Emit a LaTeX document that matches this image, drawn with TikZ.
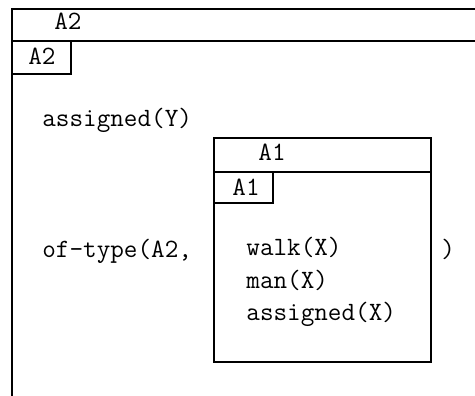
\documentclass[tikz,border=0pt]{standalone}
\usepackage{tikz}
\usetikzlibrary{positioning}
\definecolor{ink}{HTML}{000000}
\tikzset{
  frame/.style={line width=1.3pt,draw=ink,line cap=rect},
  cond/.style={font=\fontsize{13.2}{16.2}\selectfont\ttfamily,text=ink,anchor=base west,inner sep=0pt},
  boxlabel/.style={cond}
}

\begin{document}
\begin{tikzpicture}[x=0.5pt,y=-0.5pt]
    \useasboundingbox (0,0) rectangle (475,395);
    % outer box A2, open to the right and below
    \coordinate (otl) at (12,9);
    \coordinate (otr) at (475,9);
    \coordinate (obl) at (12,395);
    \draw[frame] (otr) -- (otl) -- (obl);
    \draw[frame] (12,41) -- (475,41);
    \draw[frame] (12,74) -- (71,74) -- (71,41);
    \node[boxlabel] (outhead) at (54,30) {A2};
    \node[boxlabel] (outtab) at (28,65) {A2};
    \node[cond] (asgY) at (42,127) {assigned(Y)};
    \node[cond] (oftype) at (42,257) {of-type(A2,};
    \node[cond] (close) at (441,257) {)};
    % inner box A1
    \draw[frame] (214,138) rectangle (431,362);
    \draw[frame] (214,172) -- (431,172);
    \draw[frame] (214,203) -- (273,203) -- (273,172);
    \node[boxlabel] (inhead) at (258,161) {A1};
    \node[boxlabel] (intab) at (232,195) {A1};
    \node[cond] (walk) at (246,255) {walk(X)};
    \node[cond] (man) at (246,288) {man(X)};
    \node[cond] (asgX) at (246,320) {assigned(X)};
\end{tikzpicture}
\end{document}
